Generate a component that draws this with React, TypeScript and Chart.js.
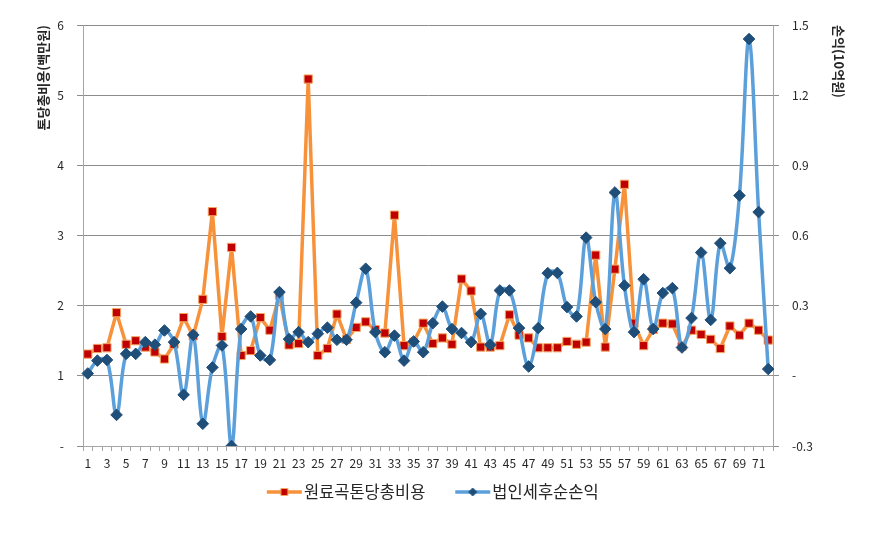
import React, { useEffect, useRef } from "react";
import { Chart, registerables } from "chart.js";

Chart.register(...registerables);

const categories: string[] = Array.from({ length: 72 }, (_, i) => String(i + 1));

const costSeriesName = "원료곡톤당총비용";
const profitSeriesName = "법인세후순손익";

const costValues: number[] = [
  1.31, 1.39, 1.4, 1.9, 1.45, 1.5, 1.41, 1.34, 1.24, 1.45,
  1.83, 1.57, 2.09, 3.34, 1.56, 2.83, 1.29, 1.36, 1.83, 1.65,
  2.15, 1.44, 1.46, 5.23, 1.29, 1.39, 1.88, 1.52, 1.69, 1.77,
  1.66, 1.61, 3.29, 1.43, 1.48, 1.75, 1.46, 1.54, 1.45, 2.38,
  2.21, 1.41, 1.41, 1.43, 1.87, 1.58, 1.54, 1.4, 1.4, 1.4,
  1.49, 1.45, 1.48, 2.72, 1.41, 2.52, 3.73, 1.75, 1.43, 1.66,
  1.75, 1.74, 1.42, 1.65, 1.59, 1.52, 1.39, 1.71, 1.58, 1.75,
  1.65, 1.51,
];

const profitValues: number[] = [
  0.01, 0.065, 0.068, -0.167, 0.094, 0.094, 0.144, 0.133, 0.194, 0.144,
  -0.081, 0.175, -0.205, 0.036, 0.13, -0.3, 0.2, 0.254, 0.087, 0.068,
  0.358, 0.157, 0.187, 0.144, 0.18, 0.206, 0.154, 0.154, 0.313, 0.458,
  0.187, 0.101, 0.172, 0.065, 0.147, 0.101, 0.225, 0.296, 0.2, 0.183,
  0.144, 0.265, 0.133, 0.365, 0.365, 0.204, 0.04, 0.204, 0.439, 0.44,
  0.294, 0.254, 0.591, 0.315, 0.2, 0.784, 0.386, 0.187, 0.413, 0.2,
  0.354, 0.375, 0.121, 0.247, 0.527, 0.239, 0.567, 0.46, 0.771, 1.44,
  0.7, 0.029,
];

const leftTitle = "톤당총비용(백만원)";
const rightTitle = "손익(10억원)";

const ORANGE = "#F7923A";
const RED = "#C00000";
const RED_EDGE = "#F4A460";
const BLUE = "#5B9FDB";
const NAVY = "#1F4E79";
const GRID = "#8C8C8C";
const AXIS = "#A6A6A6";
const TEXT = "#262626";
const FONT = "'Noto Sans CJK KR', 'Noto Sans', sans-serif";

// legend glyph: transparent left part, then line with marker in its middle
function makeLegendImage(lineColor: string, marker: "rect" | "diamond", fill: string, stroke: string) {
  const c = document.createElement("canvas");
  c.width = 60;
  c.height = 16;
  const g = c.getContext("2d")!;
  const x0 = 24;
  const x1 = 59;
  const mx = (x0 + x1) / 2;
  g.strokeStyle = lineColor;
  g.lineWidth = 3.5;
  g.beginPath();
  g.moveTo(x0, 8);
  g.lineTo(x1, 8);
  g.stroke();
  g.fillStyle = fill;
  g.strokeStyle = stroke;
  g.lineWidth = 1;
  g.beginPath();
  if (marker === "rect") {
    g.rect(mx - 3.5, 4.5, 7, 7);
  } else {
    g.moveTo(mx, 4);
    g.lineTo(mx + 4, 8);
    g.lineTo(mx, 12);
    g.lineTo(mx - 4, 8);
    g.closePath();
  }
  g.fill();
  g.stroke();
  return c;
}

export default function App() {
  const ref = useRef<HTMLCanvasElement | null>(null);

  useEffect(() => {
    if (!ref.current) return;
    const images = [
      makeLegendImage(ORANGE, "rect", RED, RED_EDGE),
      makeLegendImage(BLUE, "diamond", NAVY, NAVY),
    ];
    const tickFont = { family: FONT, size: 12 };
    const chart = new Chart(ref.current, {
      type: "line",
      data: {
        labels: categories,
        datasets: [
          {
            label: costSeriesName,
            data: costValues,
            yAxisID: "y",
            borderColor: ORANGE,
            borderWidth: 3.5,
            borderJoinStyle: "round",
            backgroundColor: RED,
            pointStyle: "rect",
            pointRadius: 5.8,
            pointBackgroundColor: RED,
            pointBorderColor: RED_EDGE,
            pointBorderWidth: 1,
            tension: 0,
            order: 2,
          },
          {
            label: profitSeriesName,
            data: profitValues,
            yAxisID: "y1",
            borderColor: BLUE,
            borderWidth: 3.5,
            borderJoinStyle: "round",
            backgroundColor: NAVY,
            pointStyle: "rectRot",
            pointRadius: 5.8,
            pointBackgroundColor: NAVY,
            pointBorderColor: NAVY,
            pointBorderWidth: 1,
            tension: 0.35,
            order: 1,
          },
        ],
      },
      options: {
        responsive: false,
        animation: false,
        layout: { padding: { top: 25, left: 0, right: 40.5, bottom: 39.75 } },
        plugins: {
          tooltip: { enabled: false },
          legend: {
            position: "bottom",
            labels: {
              usePointStyle: true,
              pointStyleWidth: 45.75,
              padding: 13,
              color: TEXT,
              font: { family: FONT, size: 16.5 },
              sort: (a: any, b: any) => a.datasetIndex - b.datasetIndex,
              generateLabels: (ch: any) => {
                const items = (Chart.defaults.plugins.legend.labels as any).generateLabels(ch);
                return items.map((it: any) => ({ ...it, pointStyle: images[it.datasetIndex] }));
              },
            },
          },
        },
        scales: {
          x: {
            type: "category",
            offset: true,
            grid: {
              offset: true,
              drawOnChartArea: false,
              drawTicks: true,
              tickLength: 5,
              color: AXIS,
            },
            border: { color: AXIS },
            ticks: {
              autoSkip: false,
              maxRotation: 0,
              minRotation: 0,
              padding: 5,
              color: TEXT,
              font: tickFont,
              callback: (_v: any, i: number) => (i % 2 === 0 ? categories[i] : ""),
            },
            afterFit: (s: any) => {
              s.height = 24.75;
            },
          },
          y: {
            type: "linear",
            position: "left",
            min: 0,
            max: 6,
            ticks: {
              stepSize: 1,
              padding: 13,
              color: TEXT,
              font: tickFont,
              callback: (v: any) => (Math.abs(Number(v)) < 1e-9 ? "-" : String(Math.round(Number(v)))),
            },
            grid: { color: GRID, tickLength: 6 },
            border: { color: AXIS },
            title: {
              display: true,
              text: leftTitle,
              align: "end",
              color: TEXT,
              font: { family: FONT, size: 13, weight: "bold" },
              padding: { top: 35, bottom: 0 },
            },
            afterFit: (s: any) => {
              s.width = 83;
            },
          },
          y1: {
            type: "linear",
            position: "right",
            min: -0.3,
            max: 1.5,
            ticks: {
              stepSize: 0.3,
              padding: 13,
              color: TEXT,
              font: tickFont,
              callback: (v: any) => (Math.abs(Number(v)) < 1e-9 ? "-" : Number(v).toFixed(1)),
            },
            grid: { drawOnChartArea: false, color: GRID, tickLength: 6 },
            border: { color: AXIS },
            title: {
              display: true,
              text: rightTitle,
              align: "end",
              color: TEXT,
              font: { family: FONT, size: 13, weight: "bold" },
              padding: { top: 1.7, bottom: 0 },
            },
            afterFit: (s: any) => {
              s.width = 75.5;
            },
          },
        },
      } as any,
    });
    return () => chart.destroy();
  }, []);

  return (
    <div style={{ position: "absolute", left: 0, top: 0, width: 889, height: 550, background: "#fff" }}>
      <canvas ref={ref} width={889} height={550} />
    </div>
  );
}
